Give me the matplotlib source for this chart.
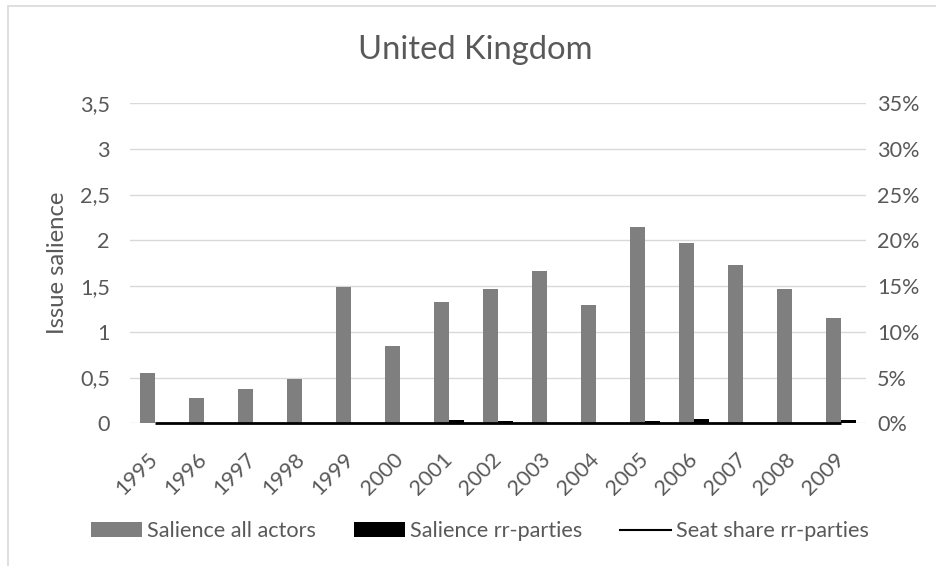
import matplotlib
matplotlib.use("Agg")
import matplotlib.pyplot as plt
import numpy as np
from matplotlib.patches import Patch, Rectangle
from matplotlib.lines import Line2D
from matplotlib.ticker import FuncFormatter, MultipleLocator

# ---- data ----
years = ["1995", "1996", "1997", "1998", "1999", "2000", "2001", "2002",
         "2003", "2004", "2005", "2006", "2007", "2008", "2009"]
salience_all = [0.55, 0.275, 0.375, 0.485, 1.485, 0.85, 1.33, 1.47,
                1.66, 1.29, 2.14, 1.965, 1.73, 1.47, 1.15]
salience_rr = [0.0, 0.0, 0.0, 0.0, 0.0, 0.0, 0.04, 0.025,
               0.0, 0.0, 0.025, 0.05, 0.0, 0.0, 0.035]
seat_share_rr = [0.0, 0.0, 0.0, 0.0, 0.0, 0.0, 0.0, 0.0,
                 0.0, 0.0, 0.0, 0.0, 0.0, 0.0, 0.0]
legend_labels = ["Salience all actors", "Salience rr-parties", "Seat share rr-parties"]
title = "United Kingdom"
ylabel = "Issue salience"

plt.rcParams['font.family'] = ['Lato', 'DejaVu Sans']

W, H = 936, 566
TXT = '#595959'
GRID = '#d9d9d9'
GREY = '#7f7f7f'

fig = plt.figure(figsize=(W / 100, H / 100), dpi=100)
renderer = fig.canvas.get_renderer()


def width_px(s, size):
    t = fig.text(0, 0, s, fontsize=size)
    w = t.get_window_extent(renderer).width
    t.remove()
    return w


base = 10 * 168 / width_px(legend_labels[0], 10)
title_size = 10 * 235 / width_px(title, 10)
ylab_size = 10 * 143 / width_px(ylabel, 10)

# frame border (chart area)
fig.patches.append(Rectangle((8 / W, -0.2), 2.0, (H - 6) / H + 0.2,
                             transform=fig.transFigure, fill=False,
                             edgecolor=GRID, linewidth=1.2, zorder=0))

ax = fig.add_axes([130 / W, 1 - 423.3 / H, 736 / W, (423.3 - 103) / H])
x = np.arange(len(years))
bw = 0.306
ax.bar(x - bw / 2, salience_all, width=bw, color=GREY, zorder=2)
ax.bar(x + bw / 2, salience_rr, width=bw, color='black', zorder=3)
ax.set_xlim(-0.5, len(years) - 0.5)
ax.set_ylim(0, 3.5)
ax.yaxis.set_major_locator(MultipleLocator(0.5))
ax.yaxis.set_major_formatter(FuncFormatter(lambda v, p: f"{v:g}".replace('.', ',')))
ax.yaxis.grid(True, color=GRID, linewidth=1.0)
ax.set_axisbelow(True)
ax.set_xticks(x)
ax.set_xticklabels(years, rotation=45, ha='right', va='center',
                   rotation_mode='anchor')
ax.tick_params(axis='x', length=0, pad=24, labelcolor=TXT, labelsize=base)
ax.tick_params(axis='y', length=0, pad=14.4, labelcolor=TXT, labelsize=base)
for s in ax.spines.values():
    s.set_visible(False)

ax2 = ax.twinx()
ax2.plot(x, seat_share_rr, color='black', linewidth=2.0, zorder=4,
         clip_on=False, solid_capstyle='butt')
ax2.set_ylim(0, 0.35)
ax2.yaxis.set_major_locator(MultipleLocator(0.05))
ax2.yaxis.set_major_formatter(FuncFormatter(lambda v, p: f"{int(round(v * 100))}%"))
ax2.tick_params(axis='y', length=0, pad=8, labelcolor=TXT, labelsize=base)
for s in ax2.spines.values():
    s.set_visible(False)

fig.text(475.5 / W, 1 - 50 / H, title, ha='center', va='center',
         fontsize=title_size, color=TXT)
fig.text(57 / W, 1 - 263 / H, ylabel, rotation=90, ha='center', va='center',
         fontsize=ylab_size, color=TXT)

fs_px = base * 100 / 72
handles = [Patch(facecolor=GREY, edgecolor='none'),
           Patch(facecolor='black', edgecolor='none'),
           Line2D([0], [0], color='black', linewidth=1.5)]
fig.legend(handles, legend_labels, loc='center', ncol=3,
           bbox_to_anchor=(480 / W, 1 - 531 / H), frameon=False,
           fontsize=base, labelcolor=TXT,
           handlelength=51 / fs_px, handleheight=14 / fs_px,
           handletextpad=5 / fs_px, columnspacing=38 / fs_px, borderpad=0)

fig.savefig("out.png", dpi=100)
